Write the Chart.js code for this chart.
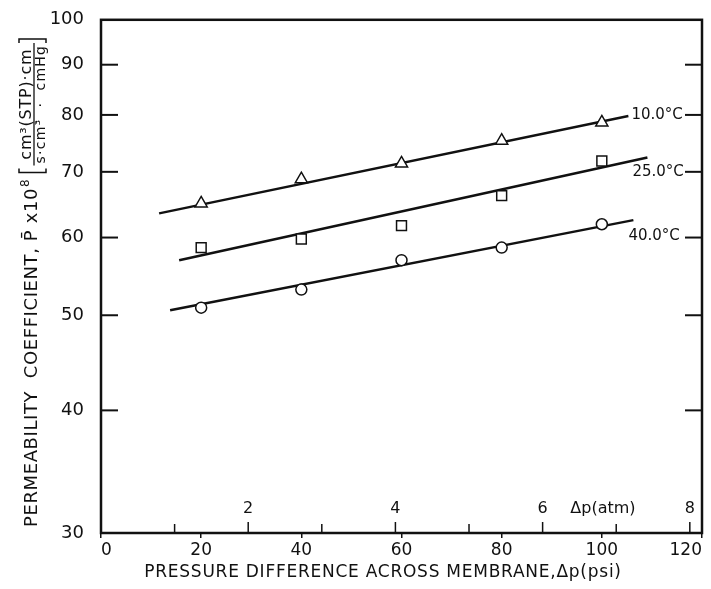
<!DOCTYPE html>
<html>
<head>
<meta charset="utf-8">
<script src="https://cdn.jsdelivr.net/npm/chart.js@4.4.1/dist/chart.umd.min.js"></script>
<style>
html, body { margin: 0; padding: 0; background: #fff; }
#wrap { width: 711px; height: 589px; }
</style>
</head>
<body>
<div id="wrap"><canvas id="myChart" width="711" height="589"></canvas></div>
<script>
// measured points, psi vs permeability (x 1e8)
const psi = [20, 40, 60, 80, 100];
const perm10 = [65.0, 68.8, 71.4, 75.3, 78.6];
const perm25 = [58.6, 59.8, 61.7, 66.2, 71.8];
const perm40 = [50.9, 53.1, 56.9, 58.6, 61.9];

// fitted straight lines (end points)
const fitPsi10 = [11.6, 105.3];
const fit10 = [63.5, 79.8];
const fitPsi25 = [15.6, 109.1];
const fit25 = [56.9, 72.4];
const fitPsi40 = [13.8, 106.3];
const fit40 = [50.6, 62.5];

const seriesLabels = ['10.0\u00B0C', '25.0\u00B0C', '40.0\u00B0C'];

const xTicks = [0, 20, 40, 60, 80, 100, 120];
const yTicks = [30, 40, 50, 60, 70, 80, 90, 100];
const atmTicks = [1, 2, 3, 4, 5, 6, 7, 8];
const atmLabels = [2, 4, 6, 8];
const PSI_PER_ATM = 14.696;

// where the temperature labels sit relative to the end of each line
const labelOffsets = [[3, -1], [-15, 15], [-5, 16]];

const INK = '#111';
const FONT = '"DejaVu Sans", sans-serif';

const pts = (xs, ys) => xs.map((v, i) => ({ x: v, y: ys[i] }));

const markerDs = (data, style, r) => ({
    data: data,
    showLine: false,
    pointStyle: style,
    pointRadius: r,
    pointBackgroundColor: '#fff',
    pointBorderColor: INK,
    pointBorderWidth: 1.5
});
const lineDs = (data) => ({
    data: data,
    showLine: true,
    pointRadius: 0,
    borderColor: INK,
    borderWidth: 2.5,
    fill: false
});

function line(ctx, x1, y1, x2, y2) {
    ctx.beginPath();
    ctx.moveTo(x1, y1);
    ctx.lineTo(x2, y2);
    ctx.stroke();
}

const decor = {
    id: 'decor',
    afterDraw(chart) {
        const { ctx, chartArea: a, scales: { x, y } } = chart;
        ctx.save();
        ctx.strokeStyle = INK;
        ctx.fillStyle = INK;

        // frame
        ctx.lineWidth = 2.5;
        ctx.strokeRect(a.left, a.top, a.right - a.left, a.bottom - a.top);

        // inward ticks left and right
        ctx.lineWidth = 2;
        yTicks.slice(1, -1).forEach(v => {
            const py = y.getPixelForValue(v);
            line(ctx, a.left, py, a.left + 17, py);
            line(ctx, a.right, py, a.right - 17, py);
        });

        // atm scale along the bottom, inside the plot
        ctx.lineWidth = 1.5;
        atmTicks.forEach(v => {
            const px = x.getPixelForValue(v * PSI_PER_ATM);
            line(ctx, px, a.bottom, px, a.bottom - (v % 2 ? 9 : 11));
        });
        ctx.font = '16px ' + FONT;
        ctx.textAlign = 'center';
        ctx.textBaseline = 'middle';
        atmLabels.forEach(v => {
            ctx.fillText(String(v), x.getPixelForValue(v * PSI_PER_ATM), a.bottom - 24);
        });
        ctx.fillText('\u0394p(atm)', x.getPixelForValue(6.82 * PSI_PER_ATM), a.bottom - 24);

        // temperature labels
        ctx.font = '15px ' + FONT;
        ctx.textAlign = 'left';
        const ends = [[fitPsi10[1], fit10[1]], [fitPsi25[1], fit25[1]], [fitPsi40[1], fit40[1]]];
        ends.forEach((e, i) => {
            const px = x.getPixelForValue(e[0]) + labelOffsets[i][0];
            const py = y.getPixelForValue(e[1]) + labelOffsets[i][1];
            ctx.fillText(seriesLabels[i], px, py);
        });

        // x title
        ctx.font = '17px ' + FONT;
        ctx.letterSpacing = '0.75px';
        ctx.textAlign = 'center';
        ctx.fillText('PRESSURE DIFFERENCE ACROSS MEMBRANE,\u0394p(psi)', 383, a.bottom + 40);

        // y title, rotated, with bracketed units
        ctx.textAlign = 'left';
        ctx.textBaseline = 'alphabetic';
        ctx.translate(37, 527);
        ctx.rotate(-Math.PI / 2);
        ctx.font = '18px ' + FONT;
        ctx.letterSpacing = '0.6px';
        const main = 'PERMEABILITY  COEFFICIENT, P\u0304 x10';
        ctx.fillText(main, 0, 0);
        let pos = ctx.measureText(main).width;
        ctx.font = '12px ' + FONT;
        ctx.letterSpacing = '0px';
        ctx.fillText('8', pos + 1, -8);
        pos += ctx.measureText('8').width + 8;

        // units fraction
        ctx.font = '16px ' + FONT;
        ctx.letterSpacing = '0.8px';
        const num = 'cm\u00B3(STP)\u00B7cm';
        const numW = ctx.measureText(num).width;
        ctx.font = '14px ' + FONT;
        ctx.letterSpacing = '1.2px';
        const den = 's\u00B7cm\u00B3  \u00B7  cmHg';
        const denW = ctx.measureText(den).width;
        const barW = Math.max(numW, denW) + 4;

        // left bracket
        ctx.lineWidth = 1.5;
        ctx.beginPath();
        ctx.moveTo(pos + 4, -18);
        ctx.lineTo(pos, -18);
        ctx.lineTo(pos, 9);
        ctx.lineTo(pos + 4, 9);
        ctx.stroke();
        const fx = pos + 7;
        ctx.lineWidth = 1.3;
        line(ctx, fx, -3, fx + barW, -3);
        ctx.fillText(den, fx + (barW - denW) / 2, 8);
        ctx.font = '16px ' + FONT;
        ctx.letterSpacing = '0.8px';
        ctx.fillText(num, fx + (barW - numW) / 2, -6);
        const rb = fx + barW + 4;
        ctx.lineWidth = 1.5;
        ctx.beginPath();
        ctx.moveTo(rb - 4, -18);
        ctx.lineTo(rb, -18);
        ctx.lineTo(rb, 9);
        ctx.lineTo(rb - 4, 9);
        ctx.stroke();

        ctx.restore();
    }
};

const ctx = document.getElementById('myChart').getContext('2d');
const myChart = new Chart(ctx, {
    type: 'scatter',
    data: {
        datasets: [
            markerDs(pts(psi, perm10), 'triangle', 7),
            markerDs(pts(psi, perm25), 'rect', 7),
            markerDs(pts(psi, perm40), 'circle', 5.5),
            lineDs(pts(fitPsi10, fit10)),
            lineDs(pts(fitPsi25, fit25)),
            lineDs(pts(fitPsi40, fit40))
        ]
    },
    options: {
        responsive: false,
        devicePixelRatio: 1,
        animation: false,
        layout: { padding: { top: 14, right: 9, left: 0, bottom: 0 } },
        plugins: {
            legend: { display: false },
            tooltip: { enabled: false }
        },
        scales: {
            x: {
                type: 'linear',
                min: 0,
                max: 120,
                afterBuildTicks: s => { s.ticks = xTicks.map(v => ({ value: v })); },
                afterFit: s => { s.height = 56; },
                ticks: {
                    align: 'inner',
                    autoSkip: false,
                    maxRotation: 0,
                    padding: 2,
                    color: INK,
                    font: { family: FONT, size: 17 }
                },
                grid: {
                    drawOnChartArea: false,
                    drawTicks: true,
                    tickLength: 5,
                    color: INK,
                    lineWidth: 1.5
                },
                border: { display: false }
            },
            y: {
                type: 'logarithmic',
                min: 30,
                max: 100,
                afterBuildTicks: s => { s.ticks = yTicks.map(v => ({ value: v })); },
                afterFit: s => { s.width = 101; },
                ticks: {
                    callback: v => String(v),
                    padding: 9,
                    color: INK,
                    font: { family: FONT, size: 18 }
                },
                grid: { display: false },
                border: { display: false }
            }
        }
    },
    plugins: [decor]
});
</script>
</body>
</html>
